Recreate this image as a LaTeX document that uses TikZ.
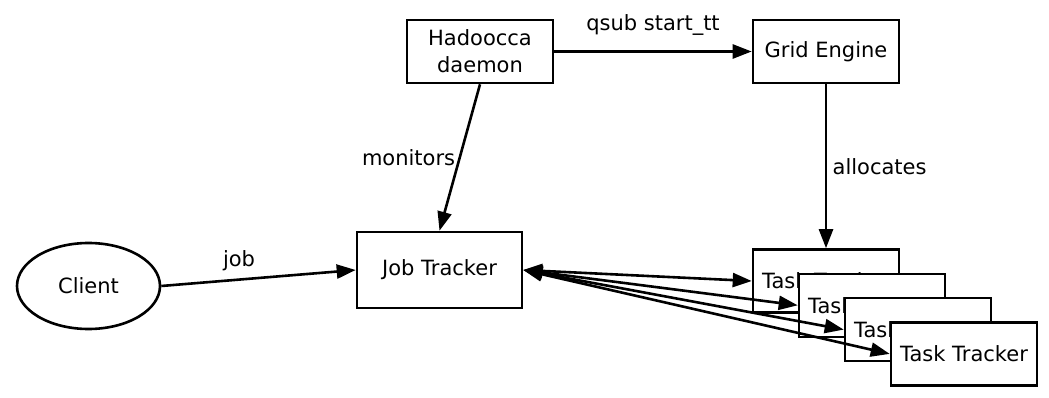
\documentclass[tikz,border=0pt]{standalone}
\usepackage{fontspec}
\setmainfont{DejaVu Sans}
\usetikzlibrary{arrows.meta,positioning,shapes.geometric}

\begin{document}
\begin{tikzpicture}[
  x=1pt, y=-1pt,
  every node/.style={font=\fontsize{21}{27}\selectfont},
  box/.style={draw, line width=2.6pt, fill=white, align=center, minimum width=146pt, minimum height=63pt, inner sep=3pt},
  arr/.style={-{Triangle[length=19pt,width=14pt]}, line width=2.6pt},
  biarr/.style={{Triangle[length=19pt,width=14pt]}-{Triangle[length=19pt,width=14pt]}, line width=2.6pt}
]
\useasboundingbox (0,0) rectangle (1049,398);
\node[box] (daemon) at (480,51.5) {Hadoocca\\daemon};
\node[box] (grid) at (826,51.5) {Grid Engine};
\node[box, minimum width=165pt, minimum height=76pt] (jt) at (439.5,270) {Job Tracker};
\node[draw, ellipse, line width=2.6pt, minimum width=143pt, minimum height=86pt] (client) at (88.5,286) {Client};
\node[box] (tt1) at (826,281) {Task Tracker};
\node[box] (tt2) at ([shift={(46,24.3)}]tt1) {Task Tracker};
\node[box] (tt3) at ([shift={(46,24.3)}]tt2) {Task Tracker};
\node[box] (tt4) at ([shift={(46,24.3)}]tt3) {Task Tracker};
\draw[arr] (daemon) -- node[above=11pt] {qsub start\_tt} (grid);
\draw[arr] (daemon.south) -- node[left] {monitors} (jt.north);
\draw[arr] (grid.south) -- node[right=2pt] {allocates} (tt1.north);
\draw[arr] (client.east) -- node[pos=0.4, above=4pt] {job} (jt.west);
\draw[biarr] (jt.east) -- (tt1.west);
\draw[biarr] (jt.east) -- (tt2.west);
\draw[biarr] (jt.east) -- (tt3.west);
\draw[biarr] (jt.east) -- (tt4.west);
\end{tikzpicture}
\end{document}
